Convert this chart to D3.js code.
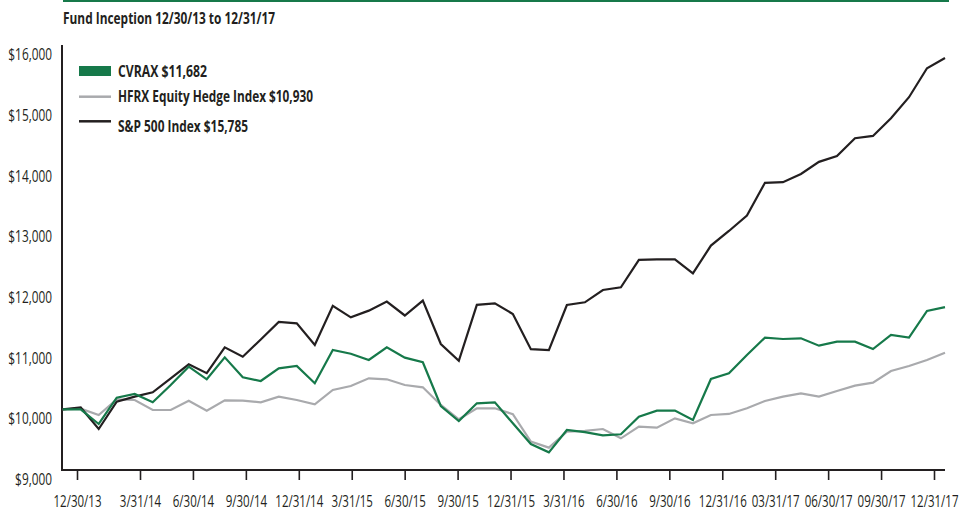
<!DOCTYPE html>
<html>
<head>
<meta charset="utf-8">
<script src="https://cdn.jsdelivr.net/npm/d3@7"></script>
<style>
	body { margin: 0; background: #fff; }
	svg { display: block; }
	.axis text { font-family: "Open Sans", sans-serif; font-size: 16px; fill: #231f20; }
	.label-bold { font-family: "Open Sans", sans-serif; font-weight: bold; fill: #231f20; }
</style>
</head>
<body>
<svg id="chart"></svg>
<script>
// Growth of $10,000, one point per month end (plus the inception day)
const cvrax = [10000, 10000, 9758, 10192, 10252, 10115, 10400, 10702, 10494, 10856,
	10527, 10466, 10675, 10713, 10428, 10977, 10915, 10812, 11021, 10851,
	10774, 10054, 9807, 10098, 10115, 9769, 9428, 9291, 9659, 9625,
	9570, 9588, 9879, 9978, 9978, 9824, 10499, 10593, 10895, 11180,
	11158, 11169, 11048, 11114, 11114, 10993, 11224, 11180, 11619, 11682];

const hfrx = [10000, 10010, 9906, 10164, 10153, 9988, 9988, 10142, 9977, 10148,
	10142, 10115, 10208, 10153, 10082, 10318, 10384, 10510, 10494, 10400,
	10362, 10071, 9835, 10016, 10016, 9920, 9467, 9368, 9630, 9643,
	9675, 9522, 9714, 9697, 9851, 9769, 9906, 9923, 10016, 10137,
	10208, 10263, 10208, 10301, 10389, 10438, 10631, 10713, 10812, 10930];

const sp500 = [10000, 10030, 9675, 10125, 10208, 10280, 10510, 10740, 10595, 11020,
	10865, 11150, 11440, 11415, 11060, 11705, 11515, 11625, 11775, 11545,
	11790, 11075, 10800, 11720, 11745, 11570, 10990, 10975, 11718, 11762,
	11965, 12009, 12460, 12470, 12470, 12240, 12696, 12937, 13190, 13730,
	13740, 13876, 14075, 14170, 14464, 14502, 14794, 15140, 15617, 15785];

const seriesNames = ['CVRAX $11,682', 'HFRX Equity Hedge Index $10,930', 'S&P 500 Index $15,785'];
const seriesColors = ['#16794a', '#a9aaad', '#231f20'];

const tickLabels = ['12/30/13', '3/31/14', '6/30/14', '9/30/14', '12/31/14', '3/31/15', '6/30/15',
	'9/30/15', '12/31/15', '3/31/16', '6/30/16', '9/30/16', '12/31/16', '03/31/17', '06/30/17',
	'09/30/17', '12/31/17'];
const yTicks = [9000, 10000, 11000, 12000, 13000, 14000, 15000, 16000];

class GrowthVis {

	constructor(_config) {
		this.config = {
			parentElement: _config.parentElement,
			containerWidth: _config.containerWidth || 963,
			containerHeight: _config.containerHeight || 509,
			margin: _config.margin || {top: 45, right: 18, bottom: 39, left: 62},
			// no condensed font installed, so axis labels get squeezed horizontally
			squeeze: 0.72
		};
		this.initVis();
	}

	initVis() {
		let vis = this;
		vis.width = vis.config.containerWidth - vis.config.margin.left - vis.config.margin.right;
		vis.height = vis.config.containerHeight - vis.config.margin.top - vis.config.margin.bottom;

		vis.svg = d3.select(vis.config.parentElement)
			.attr('width', vis.config.containerWidth)
			.attr('height', vis.config.containerHeight);

		vis.chart = vis.svg.append('g')
			.attr('transform', `translate(${vis.config.margin.left},${vis.config.margin.top})`);

		// data points sit one month apart, first one right on the y axis
		vis.xScale = d3.scaleLinear()
			.domain([0, cvrax.length - 1])
			.range([0.7, vis.width]);

		// the printed quarter ticks don't line up with the monthly points, so they get their own scale
		vis.tickScale = d3.scaleLinear()
			.domain([0, 1, tickLabels.length - 1])
			.range([15, 78, 872]);

		vis.yScale = d3.scaleLinear()
			.domain([9000, 16000])
			.range([vis.height, 0]);

		vis.xAxis = d3.axisBottom(vis.tickScale)
			.tickValues(d3.range(tickLabels.length))
			.tickFormat(i => tickLabels[i])
			.tickSize(10)
			.tickSizeOuter(0);

		vis.yAxis = d3.axisLeft(vis.yScale)
			.tickValues(yTicks)
			.tickFormat(d => '$' + d3.format(',')(d))
			.tickSize(0);

		vis.xAxisG = vis.chart.append('g')
			.attr('class', 'axis x-axis')
			.attr('transform', `translate(0,${vis.height})`);

		vis.yAxisG = vis.chart.append('g')
			.attr('class', 'axis y-axis');

		vis.line = d3.line()
			.x((d, i) => vis.xScale(i))
			.y(d => vis.yScale(d));
	}

	renderVis() {
		let vis = this;
		const sq = vis.config.squeeze;

		// green rule across the top
		vis.svg.append('rect')
			.attr('x', vis.config.margin.left + 1)
			.attr('y', 0)
			.attr('width', vis.width + 3)
			.attr('height', 2)
			.attr('fill', seriesColors[0]);

		vis.svg.append('text')
			.attr('class', 'label-bold')
			.attr('x', 63)
			.attr('y', 24)
			.attr('font-size', 16)
			.attr('textLength', 212)
			.attr('lengthAdjust', 'spacingAndGlyphs')
			.text('Fund Inception 12/30/13 to 12/31/17');

		vis.xAxisG.call(vis.xAxis);
		vis.xAxisG.select('.domain').remove();
		vis.xAxisG.selectAll('.tick line')
			.attr('stroke', '#231f20')
			.attr('stroke-width', 1.6);
		vis.xAxisG.selectAll('.tick text')
			.attr('y', 37)
			.attr('dy', 0)
			.attr('transform', `scale(${sq},1)`);

		vis.yAxisG.call(vis.yAxis);
		vis.yAxisG.select('.domain').remove();
		// labels hang a little below their value, like the printed chart
		vis.yAxisG.selectAll('.tick text')
			.attr('x', 0)
			.attr('transform', `translate(-10,9.5) scale(${sq + 0.02},1)`);

		// axis lines drawn by hand so they meet at the corner
		vis.chart.append('path')
			.attr('d', `M0,0V${vis.height}H${vis.width}`)
			.attr('fill', 'none')
			.attr('stroke', '#231f20')
			.attr('stroke-width', 2);

		// gray first so the fund line sits on top
		const allSeries = [hfrx, sp500, cvrax];
		const colorOf = [seriesColors[1], seriesColors[2], seriesColors[0]];
		vis.chart.selectAll('.series')
			.data(allSeries)
			.join('path')
			.attr('class', 'series')
			.attr('d', d => vis.line(d))
			.attr('fill', 'none')
			.attr('stroke', (d, i) => colorOf[i])
			.attr('stroke-width', 2.2)
			.attr('stroke-linejoin', 'miter');

		// legend
		const legendY = [71, 96.7, 121.3];
		const textBase = [76.7, 102, 131.5];
		const textLen = [89, 195, 130];
		const legend = vis.svg.append('g').attr('class', 'legend');
		legend.append('rect')
			.attr('x', 79)
			.attr('y', legendY[0] - 5)
			.attr('width', 32)
			.attr('height', 10)
			.attr('fill', seriesColors[0]);
		[1, 2].forEach(i => {
			legend.append('line')
				.attr('x1', 79)
				.attr('x2', 111)
				.attr('y1', legendY[i])
				.attr('y2', legendY[i])
				.attr('stroke', seriesColors[i])
				.attr('stroke-width', 2.5);
		});
		legend.selectAll('text')
			.data(seriesNames)
			.join('text')
			.attr('class', 'label-bold')
			.attr('x', 118)
			.attr('y', (d, i) => textBase[i])
			.attr('font-size', 16.5)
			.attr('textLength', (d, i) => textLen[i])
			.attr('lengthAdjust', 'spacingAndGlyphs')
			.text(d => d);
	}
}

const vis = new GrowthVis({parentElement: '#chart'});
vis.renderVis();
</script>
</body>
</html>
